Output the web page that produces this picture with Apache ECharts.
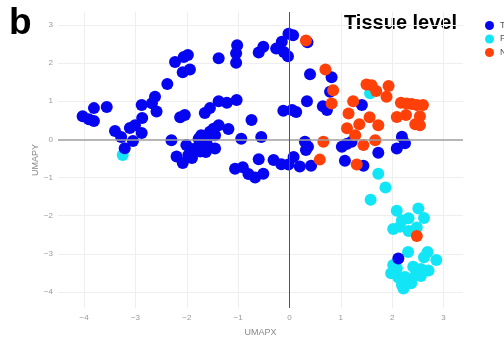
<!DOCTYPE html>
<html lang="en">
  <head>
    <meta charset="UTF-8" />
    <title>Tissue level UMAP</title>
    <script src="https://cdn.jsdelivr.net/npm/echarts@6/dist/echarts.min.js"></script>
    <style>
      html, body { margin: 0; padding: 0; background: #fff; }
      #chart { width: 504px; height: 338px; }
    </style>
  </head>
  <body>
    <div id="chart"></div>
    <script>
      // tick positions
      const xTicks = [-4, -3, -2, -1, 0, 1, 2, 3]
      const yTicks = [-4, -3, -2, -1, 0, 1, 2, 3]

      // legend order
      const groups = ['Tumor', 'PVTT', 'Normal']

      // [UMAPX, UMAPY]
      const tumor = [
        [-4.03, 0.61], [-3.91, 0.53], [-3.81, 0.82], [-3.81, 0.48], [-3.56, 0.85],
        [-3.40, 0.22], [-3.28, 0.06], [-3.21, -0.23], [-3.11, 0.30], [-3.01, 0.37],
        [-3.05, -0.04], [-2.88, 0.17], [-2.87, 0.56], [-2.88, 0.90], [-2.62, 1.12],
        [-2.68, 0.95], [-2.59, 0.73], [-2.38, 1.45], [-2.23, 2.03], [-2.06, 2.16],
        [-1.98, 2.21], [-2.08, 1.76], [-1.94, 1.83], [-2.30, -0.02], [-2.13, 0.58],
        [-2.04, 0.64], [-1.65, 0.69], [-1.55, 0.82], [-1.38, 1.00], [-1.22, 0.96],
        [-1.03, 1.03], [-1.38, 2.13], [-1.02, 2.47], [-1.04, 2.26], [-1.04, 2.01],
        [-0.60, 2.28], [-0.51, 2.43], [-0.26, 2.38], [-0.15, 2.56], [-0.11, 2.29],
        [-0.03, 2.18], [-0.02, 2.77], [0.07, 2.73], [0.35, 2.55], [0.40, 1.71],
        [0.82, 1.63], [0.79, 1.25], [0.34, 1.00], [0.65, 0.87], [0.73, 0.77],
        [-0.12, 0.75], [0.05, 0.77], [0.13, 0.72], [-0.74, 0.51], [-1.19, 0.27],
        [-0.94, 0.02], [-0.55, 0.06], [0.30, -0.06], [0.36, -0.19], [0.32, -0.28],
        [-0.60, -0.52], [-0.31, -0.54], [-0.16, -0.65], [-0.02, -0.66], [0.08, -0.46],
        [0.20, -0.71], [0.42, -0.69], [-1.06, -0.77], [-0.91, -0.73], [-0.80, -0.91],
        [-0.67, -1.00], [-0.51, -0.90], [-2.20, -0.45], [-2.08, -0.62], [-2.01, -0.15],
        [-1.91, -0.32], [-1.84, -0.24], [-1.77, 0.02], [-1.72, 0.11], [-1.68, -0.11],
        [-1.62, -0.02], [-1.55, 0.20], [-1.48, 0.28], [-1.38, 0.37], [-1.45, 0.11],
        [-1.58, -0.19], [-1.45, -0.24], [-1.74, -0.32], [-1.97, -0.41], [-1.90, -0.49],
        [-1.63, -0.33], [1.02, -0.19], [1.11, -0.12], [1.21, -0.06], [1.73, -0.35],
        [2.19, 0.07], [2.25, -0.10], [2.09, -0.24], [1.08, -0.56], [1.44, -0.69],
        [1.41, 0.90], [2.12, -3.12]
      ]
      const pvtt = [
        [-3.25, -0.41], [1.57, 1.21], [1.73, -0.90], [1.87, -1.26], [1.58, -1.58],
        [2.09, -1.87], [2.51, -1.81], [2.62, -2.06], [2.19, -2.12], [2.32, -2.07],
        [2.02, -2.35], [2.15, -2.29], [2.32, -2.40], [2.48, -2.31], [2.31, -2.95],
        [2.69, -2.95], [2.62, -3.09], [2.86, -3.16], [2.02, -3.29], [1.98, -3.51],
        [2.09, -3.38], [2.41, -3.34], [2.56, -3.40], [2.71, -3.44], [2.12, -3.62],
        [2.25, -3.61], [2.19, -3.82], [2.22, -3.91], [2.45, -3.58], [2.56, -3.58],
        [2.37, -3.77]
      ]
      const normal = [
        [0.32, 2.59], [0.70, 1.83], [0.85, 1.29], [0.82, 0.94], [1.24, 1.00],
        [1.50, 1.44], [1.60, 1.42], [1.69, 1.27], [1.93, 1.40], [1.89, 1.12],
        [1.15, 0.68], [1.56, 0.58], [1.36, 0.40], [1.73, 0.37], [1.12, 0.29],
        [1.28, 0.11], [2.17, 0.96], [2.28, 0.94], [2.38, 0.93], [2.48, 0.90],
        [2.60, 0.90], [2.09, 0.59], [2.27, 0.64], [2.54, 0.61], [2.45, 0.40],
        [2.54, 0.37], [1.67, -0.02], [1.44, -0.15], [0.66, -0.06], [0.59, -0.53],
        [1.31, -0.66], [2.48, -2.53]
      ]

      const colors = { Tumor: '#0505f0', PVTT: '#12e6f6', Normal: '#ff4008' }
      const fmt = v => (v < 0 ? '\u2212' + Math.abs(v) : String(v))

      const chart = echarts.init(document.getElementById('chart'))

      const pointSeries = (name, data, z) => ({
        name: name,
        type: 'scatter',
        data: data,
        symbolSize: 12,
        z: z,
        itemStyle: { color: colors[name], opacity: 1 },
        emphasis: { disabled: true }
      })

      chart.setOption({
        animation: false,
        graphic: [
          {
            type: 'text', left: 9, top: 5,
            style: { text: 'b', font: 'bold 37px "Liberation Sans", Arial', fill: '#000' }
          },
          {
            type: 'text', left: 344, top: 13,
            style: { text: 'Tissue level', font: 'bold 20px "Liberation Sans", Arial', fill: '#000' }
          }
        ],
        legend: {
          data: groups,
          orient: 'vertical',
          left: 480,
          top: 16,
          itemWidth: 9,
          itemHeight: 9,
          itemGap: 4.5,
          icon: 'circle',
          textStyle: { color: '#555', fontSize: 9, padding: [0, 0, 0, 1] }
        },
        grid: { left: 58, right: 41, top: 12, bottom: 30, outerBoundsMode: 'none' },
        xAxis: {
          type: 'value',
          min: -4.51,
          max: 3.38,
          name: 'UMAPX',
          nameLocation: 'middle',
          nameGap: 20,
          nameTextStyle: { color: '#888', fontSize: 9, fontFamily: 'Liberation Sans' },
          axisLine: { show: false },
          axisTick: { show: false, customValues: xTicks },
          axisLabel: { customValues: xTicks, formatter: fmt, color: '#999', fontSize: 8, margin: 6 },
          splitLine: { lineStyle: { color: '#eeeeee', width: 1 } }
        },
        yAxis: {
          type: 'value',
          min: -4.42,
          max: 3.34,
          name: 'UMAPY',
          nameLocation: 'middle',
          nameGap: 18,
          nameMoveOverlap: false,
          nameRotate: 90,
          nameTextStyle: { color: '#888', fontSize: 9, fontFamily: 'Liberation Sans' },
          axisLine: { show: false },
          axisTick: { show: false, customValues: yTicks },
          axisLabel: { customValues: yTicks, formatter: fmt, color: '#999', fontSize: 8, margin: 5 },
          splitLine: { lineStyle: { color: '#eeeeee', width: 1 } }
        },
        series: [
          {
            type: 'scatter',
            data: [],
            silent: true,
            markLine: {
              silent: true,
              symbol: 'none',
              label: { show: false },
              animation: false,
              data: [
                { yAxis: 0, lineStyle: { color: '#a0a0a0', width: 1.5, type: 'solid' } },
                { xAxis: 0, lineStyle: { color: '#555555', width: 1, type: 'solid' } }
              ]
            }
          },
          pointSeries('PVTT', pvtt, 2),
          pointSeries('Tumor', tumor, 3),
          pointSeries('Normal', normal, 4)
        ]
      })
    </script>
  </body>
</html>
